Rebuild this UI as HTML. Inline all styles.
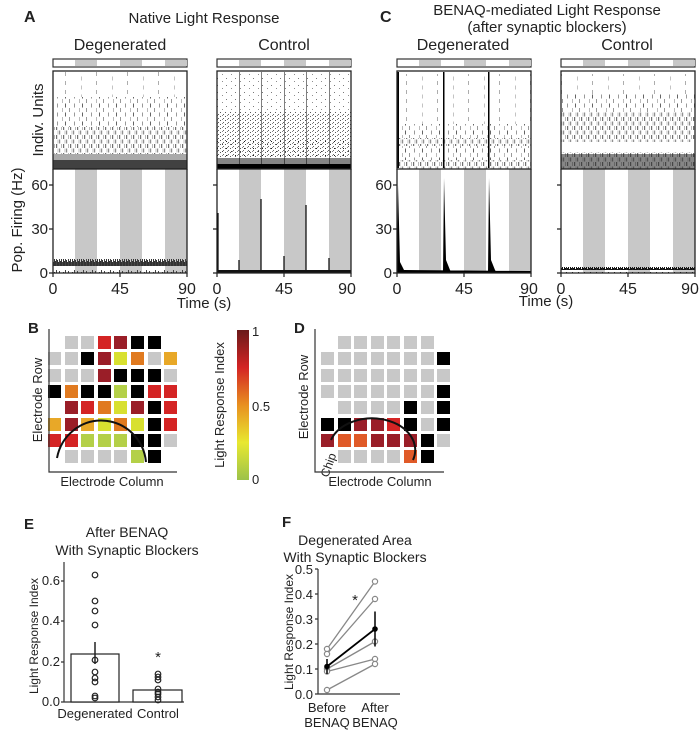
<!DOCTYPE html>
<html><head><meta charset="utf-8"><style>
body{margin:0;background:#fff}
svg{display:block;font-family:"Liberation Sans",Arial,sans-serif}
.c rect{width:13px;height:13px}
.G{fill:#c8c8c8}.K{fill:#000}.R{fill:#d42424}.D{fill:#9a1e28}.Y{fill:#d8e030}.O{fill:#e07a20}.A{fill:#e8a828}.L{fill:#b4d048}.E{fill:#e05a28}
</style></head><body>
<svg width="700" height="741" viewBox="0 0 700 741" xmlns="http://www.w3.org/2000/svg">
<defs>
<linearGradient id="cb" x1="0" y1="1" x2="0" y2="0">
<stop offset="0" stop-color="#9cc24a"/><stop offset="0.25" stop-color="#e8e830"/><stop offset="0.5" stop-color="#e89020"/><stop offset="0.75" stop-color="#d42424"/><stop offset="1" stop-color="#6a1a1a"/></linearGradient>
<pattern id="p1" width="17" height="9" patternUnits="userSpaceOnUse">
<rect x="1" y="0" width="1" height="4" fill="#555" fill-opacity=".6"/><rect x="6" y="4.5" width="1" height="4" fill="#333" fill-opacity=".5"/><rect x="11" y="0" width="1" height="4" fill="#777" fill-opacity=".5"/><rect x="14" y="4.5" width="1" height="4" fill="#222" fill-opacity=".7"/></pattern>
<pattern id="p2" width="7" height="9" patternUnits="userSpaceOnUse">
<rect x="0" y="0" width="1.2" height="4" fill="#333" fill-opacity=".7"/><rect x="3" y="4.5" width="1.2" height="4" fill="#444" fill-opacity=".6"/><rect x="5" y="0" width="1" height="4" fill="#888" fill-opacity=".6"/><rect x="1.5" y="4.5" width="1" height="4" fill="#999" fill-opacity=".6"/></pattern>
<pattern id="p3" width="31" height="9" patternUnits="userSpaceOnUse">
<rect x="3" y="0" width="1" height="4" fill="#777" fill-opacity=".6"/><rect x="19" y="4.5" width="1" height="4" fill="#888" fill-opacity=".5"/></pattern>
<pattern id="d1" width="9" height="7" patternUnits="userSpaceOnUse">
<rect x="1" y="1" width="1" height="1" fill="#222"/><rect x="6" y="4" width="1" height="1" fill="#444"/></pattern>
<pattern id="d2" width="5" height="4" patternUnits="userSpaceOnUse">
<rect x="0" y="0" width="1" height="1" fill="#111"/><rect x="3" y="2" width="1" height="1" fill="#222"/><rect x="2" y="3" width="1" height="1" fill="#555"/></pattern>
<pattern id="nz" width="9" height="14" patternUnits="userSpaceOnUse">
<rect x="0" y="6" width="1" height="8" fill="#333"/><rect x="1" y="9" width="1" height="5" fill="#333"/><rect x="2" y="4" width="1" height="10" fill="#444"/><rect x="3" y="8" width="1" height="6" fill="#333"/><rect x="4" y="10" width="1" height="4" fill="#333"/><rect x="5" y="5" width="1" height="9" fill="#444"/><rect x="6" y="9" width="1" height="5" fill="#333"/><rect x="7" y="7" width="1" height="7" fill="#333"/><rect x="8" y="10" width="1" height="4" fill="#444"/></pattern>
<pattern id="nz2" width="6" height="6" patternUnits="userSpaceOnUse">
<rect x="0" y="3" width="1" height="3" fill="#111"/><rect x="1" y="4" width="1" height="2" fill="#111"/><rect x="2" y="2" width="1" height="4" fill="#222"/><rect x="3" y="4" width="1" height="2" fill="#111"/><rect x="4" y="3" width="1" height="3" fill="#111"/><rect x="5" y="5" width="1" height="1" fill="#111"/></pattern>
</defs>
<g font-size="15" fill="#222">
<text x="24" y="22" font-weight="bold" font-size="16">A</text>
<text x="204" y="23" text-anchor="middle">Native Light Response</text>
<text x="120" y="50" text-anchor="middle" font-size="16">Degenerated</text>
<text x="284" y="50" text-anchor="middle" font-size="16">Control</text>
<text x="380" y="22" font-weight="bold" font-size="16">C</text>
<text x="547" y="15" text-anchor="middle">BENAQ-mediated Light Response</text>
<text x="547" y="32" text-anchor="middle">(after synaptic blockers)</text>
<text x="463" y="50" text-anchor="middle" font-size="16">Degenerated</text>
<text x="627" y="50" text-anchor="middle" font-size="16">Control</text>
<text transform="translate(43,120) rotate(-90)" text-anchor="middle">Indiv. Units</text>
<text transform="translate(22,220) rotate(-90)" text-anchor="middle">Pop. Firing (Hz)</text>
<text x="204" y="308" text-anchor="middle">Time (s)</text>
<text x="546" y="306" text-anchor="middle">Time (s)</text>
</g>

<g>
<rect x="53" y="59" width="134" height="8" fill="#fff" stroke="#333" stroke-width="1.2"/>
<rect x="75" y="60" width="22" height="6" fill="#c8c8c8"/><rect x="120" y="60" width="22" height="6" fill="#c8c8c8"/><rect x="165" y="60" width="22" height="6" fill="#c8c8c8"/>
<rect x="75" y="169" width="22" height="104" fill="#c8c8c8"/><rect x="120" y="169" width="22" height="104" fill="#c8c8c8"/><rect x="165" y="169" width="22" height="104" fill="#c8c8c8"/>
<rect x="53" y="72" width="134" height="25" fill="url(#p3)"/>
<rect x="53" y="97" width="134" height="30" fill="url(#p1)"/>
<rect x="53" y="127" width="134" height="27" fill="url(#p2)"/>
<rect x="53" y="154" width="134" height="6" fill="#555" fill-opacity=".5"/>
<rect x="53" y="160" width="134" height="9" fill="#111" fill-opacity=".8"/>
<rect x="53" y="71" width="134" height="98" fill="none" stroke="#222" stroke-width="1.3"/>
<rect x="53" y="259" width="134" height="14" fill="url(#nz)"/>
<path d="M53,169 V273 H187 V169" fill="none" stroke="#222" stroke-width="1.3"/>
</g>
<g>
<rect x="217" y="59" width="134" height="8" fill="#fff" stroke="#333" stroke-width="1.2"/>
<rect x="239" y="60" width="22" height="6" fill="#c8c8c8"/><rect x="284" y="60" width="22" height="6" fill="#c8c8c8"/><rect x="329" y="60" width="22" height="6" fill="#c8c8c8"/>
<rect x="239" y="169" width="22" height="104" fill="#c8c8c8"/><rect x="284" y="169" width="22" height="104" fill="#c8c8c8"/><rect x="329" y="169" width="22" height="104" fill="#c8c8c8"/>
<rect x="217" y="72" width="134" height="40" fill="url(#d1)" opacity=".6"/>
<rect x="217" y="112" width="134" height="46" fill="url(#d2)" opacity=".7"/>
<rect x="217" y="140" width="134" height="18" fill="url(#d1)"/>
<rect x="217" y="158" width="134" height="6" fill="#333" fill-opacity=".6"/>
<rect x="217" y="164" width="134" height="5" fill="#000"/>
<g fill="#000" fill-opacity=".5"><rect x="239" y="72" width="1" height="96"/><rect x="261" y="72" width="1" height="96"/><rect x="284" y="72" width="1" height="96"/><rect x="306" y="72" width="1" height="96"/><rect x="329" y="72" width="1" height="96"/></g>
<rect x="217" y="71" width="134" height="98" fill="none" stroke="#222" stroke-width="1.3"/>
<g stroke="#000" stroke-width="1.2"><path d="M218,273V213M239,273V260M261,273V199M284,273V256M306,273V205M329,273V258"/></g>
<rect x="217" y="270" width="134" height="3" fill="#111"/>
<path d="M217,169 V273 H351 V169" fill="none" stroke="#222" stroke-width="1.3"/>
</g>
<g>
<rect x="397" y="59" width="134" height="8" fill="#fff" stroke="#333" stroke-width="1.2"/>
<rect x="419" y="60" width="22" height="6" fill="#c8c8c8"/><rect x="464" y="60" width="22" height="6" fill="#c8c8c8"/><rect x="509" y="60" width="22" height="6" fill="#c8c8c8"/>
<rect x="419" y="169" width="22" height="104" fill="#c8c8c8"/><rect x="464" y="169" width="22" height="104" fill="#c8c8c8"/><rect x="509" y="169" width="22" height="104" fill="#c8c8c8"/>
<rect x="397" y="74" width="134" height="40" fill="url(#p3)"/>
<rect x="397" y="114" width="134" height="10" fill="url(#p3)"/>
<rect x="397" y="124" width="134" height="14" fill="url(#p1)"/>
<rect x="397" y="138" width="134" height="8" fill="url(#p2)"/>
<rect x="397" y="146" width="134" height="14" fill="url(#p1)"/>
<rect x="397" y="160" width="134" height="9" fill="url(#p2)"/>
<g fill="#000"><rect x="397" y="72" width="2" height="96"/><rect x="443" y="72" width="1.5" height="96"/><rect x="488" y="72" width="1.5" height="96"/></g>
<rect x="397" y="71" width="134" height="98" fill="none" stroke="#222" stroke-width="1.3"/>
<path d="M397,273 L398,185 L400,262 L404,270 L531,271 L531,273Z M443,273 L444,178 L446,260 L450,270 L452,273Z M488,273 L489,178 L491,260 L495,270 L497,273Z" fill="#000"/>
<path d="M397,169 V273 H531 V169" fill="none" stroke="#222" stroke-width="1.3"/>
</g>
<g>
<rect x="561" y="59" width="134" height="8" fill="#fff" stroke="#333" stroke-width="1.2"/>
<rect x="583" y="60" width="22" height="6" fill="#c8c8c8"/><rect x="628" y="60" width="22" height="6" fill="#c8c8c8"/><rect x="673" y="60" width="22" height="6" fill="#c8c8c8"/>
<rect x="583" y="169" width="22" height="104" fill="#c8c8c8"/><rect x="628" y="169" width="22" height="104" fill="#c8c8c8"/><rect x="673" y="169" width="22" height="104" fill="#c8c8c8"/>
<rect x="561" y="74" width="134" height="20" fill="url(#p3)"/>
<rect x="561" y="94" width="134" height="18" fill="url(#p1)"/>
<rect x="561" y="112" width="134" height="30" fill="url(#p2)"/>
<rect x="561" y="152" width="134" height="17" fill="url(#p2)"/>
<rect x="561" y="154" width="134" height="15" fill="#222" fill-opacity=".55"/>
<rect x="561" y="71" width="134" height="98" fill="none" stroke="#222" stroke-width="1.3"/>
<rect x="561" y="267" width="134" height="6" fill="url(#nz2)"/>
<path d="M561,169 V273 H695 V169" fill="none" stroke="#222" stroke-width="1.3"/>
</g>
<g stroke="#222" stroke-width="1.2">
<path d="M49,185h4M49,229h4M49,273h4M213,185h4M213,229h4M213,273h4M393,185h4M393,229h4M393,273h4M557,185h4M557,229h4M557,273h4"/>
<path d="M53,273v4M120,273v4M187,273v4M217,273v4M284,273v4M351,273v4M397,273v4M464,273v4M531,273v4M561,273v4M628,273v4M695,273v4"/>
</g>
<g font-size="15" fill="#222" text-anchor="end">
<text x="48" y="190">60</text><text x="48" y="234">30</text><text x="48" y="278">0</text>
<text x="392" y="190">60</text><text x="392" y="234">30</text><text x="392" y="278">0</text>
</g>
<g font-size="16" fill="#222" text-anchor="middle">
<text x="53" y="294">0</text><text x="120" y="294">45</text><text x="187" y="294">90</text>
<text x="217" y="294">0</text><text x="284" y="294">45</text><text x="347" y="294">90</text>
<text x="397" y="294">0</text><text x="464" y="294">45</text><text x="529" y="294">90</text>
<text x="561" y="294">0</text><text x="628" y="294">45</text><text x="690" y="294">90</text>
</g>

<g font-size="12" fill="#222">
<text x="28" y="333" font-weight="bold" font-size="15">B</text>
<text x="294" y="333" font-weight="bold" font-size="15">D</text>
<text x="112" y="486" text-anchor="middle" font-size="13">Electrode Column</text>
<text x="380" y="486" text-anchor="middle" font-size="13">Electrode Column</text>
<text transform="translate(42,400) rotate(-90)" text-anchor="middle" font-size="13">Electrode Row</text>
<text transform="translate(308,397) rotate(-90)" text-anchor="middle" font-size="13">Electrode Row</text>
<text transform="translate(224,405) rotate(-90)" text-anchor="middle" font-size="13">Light Response Index</text>
<text x="252" y="336" font-size="13">1</text>
<text x="252" y="411" font-size="13">0.5</text>
<text x="252" y="484" font-size="13">0</text>
<text transform="translate(328,478) rotate(-70)" font-size="12">Chip</text>
</g>
<rect x="237" y="330" width="12" height="150" fill="url(#cb)"/>
<g class="c">
<rect class="G" x="65" y="336"/><rect class="G" x="81" y="336"/><rect class="R" x="98" y="336"/><rect class="D" x="114" y="336"/><rect class="K" x="131" y="336"/><rect class="K" x="148" y="336"/>
<rect class="G" x="48" y="352"/><rect class="G" x="65" y="352"/><rect class="K" x="81" y="352"/><rect class="D" x="98" y="352"/><rect class="Y" x="114" y="352"/><rect class="O" x="131" y="352"/><rect class="G" x="148" y="352"/><rect class="A" x="164" y="352"/>
<rect class="G" x="48" y="369"/><rect class="G" x="65" y="369"/><rect class="G" x="81" y="369"/><rect class="D" x="98" y="369"/><rect class="K" x="114" y="369"/><rect class="K" x="131" y="369"/><rect class="K" x="148" y="369"/><rect class="G" x="164" y="369"/>
<rect class="K" x="48" y="385"/><rect class="O" x="65" y="385"/><rect class="K" x="81" y="385"/><rect class="K" x="98" y="385"/><rect class="L" x="114" y="385"/><rect class="K" x="131" y="385"/><rect class="R" x="148" y="385"/><rect class="R" x="164" y="385"/>
<rect class="D" x="65" y="401"/><rect class="R" x="81" y="401"/><rect class="O" x="98" y="401"/><rect class="Y" x="114" y="401"/><rect class="D" x="131" y="401"/><rect class="K" x="148" y="401"/><rect class="R" x="164" y="401"/>
<rect class="A" x="48" y="418"/><rect class="D" x="65" y="418"/><rect class="A" x="81" y="418"/><rect class="Y" x="98" y="418"/><rect class="O" x="114" y="418"/><rect class="Y" x="131" y="418"/><rect class="K" x="148" y="418"/><rect class="R" x="164" y="418"/>
<rect class="R" x="48" y="434"/><rect class="R" x="65" y="434"/><rect class="L" x="81" y="434"/><rect class="L" x="98" y="434"/><rect class="L" x="114" y="434"/><rect class="K" x="131" y="434"/><rect class="K" x="148" y="434"/><rect class="G" x="164" y="434"/>
<rect class="G" x="65" y="450"/><rect class="G" x="81" y="450"/><rect class="G" x="98" y="450"/><rect class="G" x="114" y="450"/><rect class="L" x="131" y="450"/><rect class="K" x="148" y="450"/>
<rect class="G" x="338" y="336"/><rect class="G" x="354" y="336"/><rect class="G" x="371" y="336"/><rect class="G" x="387" y="336"/><rect class="G" x="404" y="336"/><rect class="G" x="421" y="336"/>
<rect class="G" x="321" y="352"/><rect class="G" x="338" y="352"/><rect class="G" x="354" y="352"/><rect class="G" x="371" y="352"/><rect class="G" x="387" y="352"/><rect class="G" x="404" y="352"/><rect class="G" x="421" y="352"/><rect class="K" x="437" y="352"/>
<rect class="G" x="321" y="369"/><rect class="G" x="338" y="369"/><rect class="G" x="354" y="369"/><rect class="G" x="371" y="369"/><rect class="G" x="387" y="369"/><rect class="G" x="404" y="369"/><rect class="G" x="421" y="369"/><rect class="G" x="437" y="369"/>
<rect class="G" x="321" y="385"/><rect class="G" x="338" y="385"/><rect class="G" x="354" y="385"/><rect class="G" x="371" y="385"/><rect class="G" x="387" y="385"/><rect class="G" x="404" y="385"/><rect class="G" x="421" y="385"/><rect class="K" x="437" y="385"/>
<rect class="G" x="338" y="401"/><rect class="G" x="354" y="401"/><rect class="G" x="371" y="401"/><rect class="G" x="387" y="401"/><rect class="K" x="404" y="401"/><rect class="G" x="421" y="401"/><rect class="K" x="437" y="401"/>
<rect class="K" x="321" y="418"/><rect class="K" x="338" y="418"/><rect class="D" x="354" y="418"/><rect class="D" x="371" y="418"/><rect class="R" x="387" y="418"/><rect class="K" x="404" y="418"/><rect class="G" x="421" y="418"/><rect class="K" x="437" y="418"/>
<rect class="D" x="321" y="434"/><rect class="E" x="338" y="434"/><rect class="E" x="354" y="434"/><rect class="D" x="371" y="434"/><rect class="D" x="387" y="434"/><rect class="D" x="404" y="434"/><rect class="K" x="421" y="434"/><rect class="G" x="437" y="434"/>
<rect class="G" x="338" y="450"/><rect class="G" x="354" y="450"/><rect class="G" x="371" y="450"/><rect class="G" x="387" y="450"/><rect class="E" x="404" y="450"/><rect class="K" x="421" y="450"/>
</g>
<path d="M49,329 V472 H177" fill="none" stroke="#333" stroke-width="1.2"/>
<path d="M315,329 V472 H444" fill="none" stroke="#333" stroke-width="1.2"/>
<path d="M57,458 A45,46 0 0 1 146,462" fill="none" stroke="#111" stroke-width="2"/>
<path d="M331,440 A41,30 0 0 1 413,460" fill="none" stroke="#111" stroke-width="2"/>
<g font-size="13" fill="#222">
<text x="24" y="529" font-weight="bold" font-size="15">E</text>
<text x="127" y="537" text-anchor="middle" font-size="14">After BENAQ</text>
<text x="127" y="555" text-anchor="middle" font-size="14">With Synaptic Blockers</text>
<text x="95" y="718" text-anchor="middle">Degenerated</text>
<text x="158" y="718" text-anchor="middle">Control</text>
<text transform="translate(38,636) rotate(-90)" text-anchor="middle" font-size="12">Light Response Index</text>
<text x="60" y="706" text-anchor="end">0.0</text>
<text x="60" y="666" text-anchor="end">0.2</text>
<text x="60" y="625" text-anchor="end">0.4</text>
<text x="60" y="585" text-anchor="end">0.6</text>
<text x="158" y="662" text-anchor="middle" font-size="15">*</text>
</g>
<path d="M64,562 V702 H184 M64,702 h-3 M64,662 h-3 M64,621 h-3 M64,581 h-3" fill="none" stroke="#333" stroke-width="1.2"/>
<rect x="71" y="654" width="48" height="48" fill="#fff" stroke="#222" stroke-width="1.2"/>
<rect x="133" y="690" width="49" height="12" fill="#fff" stroke="#222" stroke-width="1.2"/>
<path d="M95,642 V664" stroke="#222" stroke-width="1.5"/>
<g fill="none" stroke="#222" stroke-width="1.2">
<circle cx="95" cy="575" r="2.8"/><circle cx="95" cy="601" r="2.8"/><circle cx="95" cy="611" r="2.8"/><circle cx="95" cy="625" r="2.8"/><circle cx="95" cy="660" r="2.8"/><circle cx="95" cy="672" r="2.8"/><circle cx="95" cy="678" r="2.8"/><circle cx="95" cy="682" r="2.8"/><circle cx="95" cy="696" r="2.8"/><circle cx="95" cy="698" r="2.8"/>
<circle cx="158" cy="674" r="2.8"/><circle cx="158" cy="677" r="2.8"/><circle cx="158" cy="680" r="2.8"/><circle cx="158" cy="689" r="2.8"/><circle cx="158" cy="692" r="2.8"/><circle cx="158" cy="694" r="2.8"/><circle cx="158" cy="697" r="2.8"/><circle cx="158" cy="700" r="2.8"/>
</g>
<g font-size="13" fill="#222">
<text x="282" y="527" font-weight="bold" font-size="15">F</text>
<text x="355" y="545" text-anchor="middle" font-size="14">Degenerated Area</text>
<text x="355" y="562" text-anchor="middle" font-size="14">With Synaptic Blockers</text>
<text x="327" y="712" text-anchor="middle">Before</text>
<text x="327" y="727" text-anchor="middle">BENAQ</text>
<text x="375" y="712" text-anchor="middle">After</text>
<text x="375" y="727" text-anchor="middle">BENAQ</text>
<text transform="translate(293,632) rotate(-90)" text-anchor="middle" font-size="12">Light Response Index</text>
<text x="355" y="605" text-anchor="middle" font-size="15">*</text>
<g text-anchor="end"><text x="313" y="699">0.0</text><text x="313" y="674">0.1</text><text x="313" y="649">0.2</text><text x="313" y="624">0.3</text><text x="313" y="599">0.4</text><text x="313" y="574">0.5</text></g>
</g>
<path d="M318,569 V694 H400 M315,694h3M315,669h3M315,644h3M315,619h3M315,594h3M315,569h3" fill="none" stroke="#333" stroke-width="1.2"/>
<g stroke="#888" stroke-width="1.3">
<line x1="327" y1="649" x2="375" y2="581.5"/><line x1="327" y1="654" x2="375" y2="599"/><line x1="327" y1="669" x2="375" y2="641.5"/><line x1="327" y1="671.5" x2="375" y2="659"/><line x1="327" y1="690" x2="375" y2="664"/>
</g>
<g fill="#fff" stroke="#888" stroke-width="1.2">
<circle cx="327" cy="649" r="2.6"/><circle cx="327" cy="654" r="2.6"/><circle cx="327" cy="669" r="2.6"/><circle cx="327" cy="671.5" r="2.6"/><circle cx="327" cy="690" r="2.6"/>
<circle cx="375" cy="581.5" r="2.6"/><circle cx="375" cy="599" r="2.6"/><circle cx="375" cy="641.5" r="2.6"/><circle cx="375" cy="659" r="2.6"/><circle cx="375" cy="664" r="2.6"/>
</g>
<path d="M327,659V674M375,611.5V646.5" stroke="#000" stroke-width="1.5"/>
<line x1="327" y1="666.5" x2="375" y2="629" stroke="#000" stroke-width="1.8"/>
<circle cx="327" cy="666.5" r="2.8"/><circle cx="375" cy="629" r="2.8"/>
</svg>
</body></html>
